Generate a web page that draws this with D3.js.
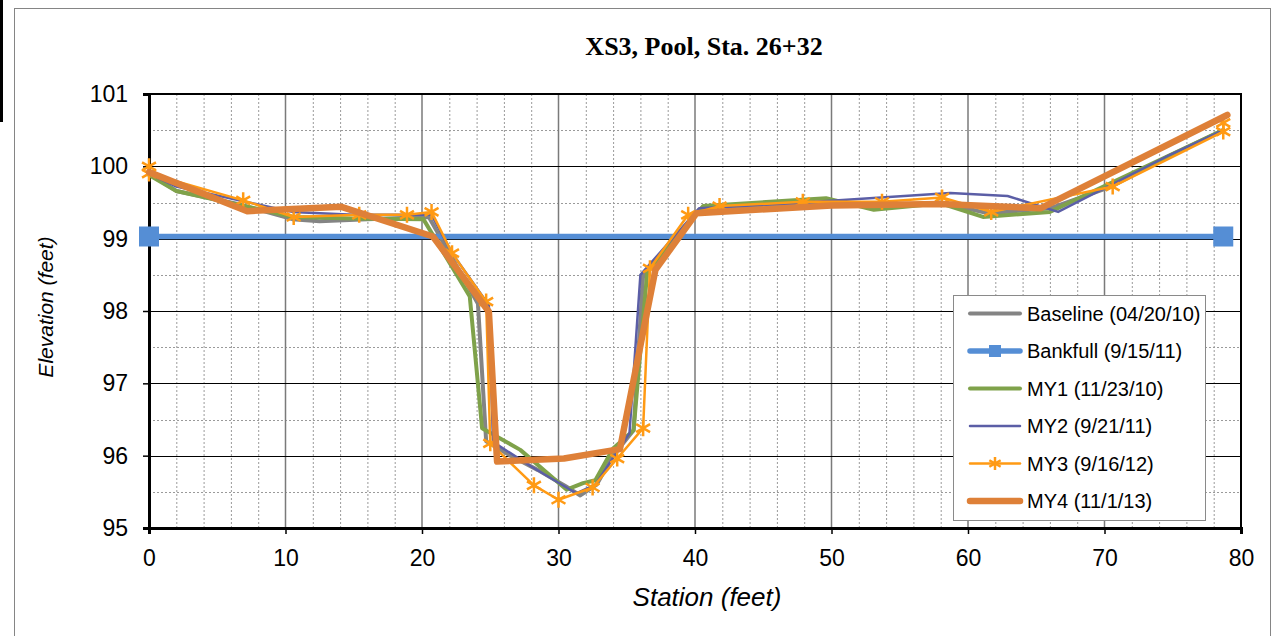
<!DOCTYPE html>
<html>
<head>
<meta charset="utf-8">
<script src="https://cdn.jsdelivr.net/npm/d3@7"></script>
<style>
  body { margin: 0; background: #fff; }
  svg { display: block; }
</style>
</head>
<body>
<svg id="chart" width="1275" height="636"></svg>
<script>
// station (feet), elevation (feet)
const baseline = [[0,99.9],[2,99.66],[6.5,99.48],[10.5,99.27],[12.5,99.24],[16,99.27],[20.5,99.3],[22,98.8],[24.1,98.1],[24.7,96.2],[26.5,96.0],[28.5,95.8],[30.5,95.58],[31.6,95.45],[32.8,95.6],[34,96.0],[35.5,96.35],[36.2,98.5],[40.3,99.4],[45,99.47],[50,99.5],[53.5,99.43],[58,99.5],[61.5,99.35],[66,99.42],[70.5,99.72],[74.5,100.12],[78.7,100.5]];
const bankfull = [[0,99.03],[78.7,99.03]];
const my1 = [[0,99.88],[2,99.66],[10.6,99.3],[15,99.28],[20.1,99.27],[23.5,98.2],[24.4,96.38],[27.2,96.08],[30.6,95.53],[31.8,95.62],[32.7,95.66],[34.0,96.1],[35.5,96.35],[36.5,98.54],[40.6,99.45],[49.6,99.56],[53.1,99.4],[58,99.49],[61.1,99.3],[66,99.37],[78.7,100.5]];
const my2 = [[0,99.9],[2,99.72],[10.5,99.37],[15,99.33],[20.7,99.33],[22.2,98.8],[24.9,98.08],[25.2,96.19],[28,95.85],[31.3,95.48],[32.7,95.6],[35.2,96.31],[36.0,98.5],[40.3,99.42],[48,99.5],[58.7,99.63],[62.9,99.59],[66.6,99.37],[74.8,100.16],[78.7,100.5]];
const my3 = [[0,100.0],[0,99.9],[6.9,99.53],[10.6,99.3],[15.4,99.33],[18.9,99.33],[20.7,99.37],[22.2,98.8],[24.7,98.13],[25.0,96.17],[28.2,95.59],[30.0,95.39],[32.5,95.56],[34.3,95.96],[36.2,96.38],[36.7,98.59],[39.5,99.33],[41.8,99.45],[47.9,99.51],[53.7,99.51],[58.1,99.57],[61.7,99.37],[70.6,99.72],[78.7,100.48],[78.7,100.6]];
const my4 = [[0,99.92],[7.2,99.38],[14.1,99.44],[20.8,99.03],[24.9,97.99],[25.5,95.92],[30.4,95.96],[34.5,96.09],[37.1,98.57],[40.1,99.35],[50,99.46],[58,99.48],[65.3,99.42],[79,100.71]];

const xTicks = [0,10,20,30,40,50,60,70,80];
const yTicks = [95,96,97,98,99,100,101];

const series = [
  { name: 'Baseline (04/20/10)', data: baseline, color: '#848484', width: 4 },
  { name: 'Bankfull (9/15/11)', data: bankfull, color: '#558ed5', width: 5.5, marker: 'square' },
  { name: 'MY1 (11/23/10)', data: my1, color: '#7fa24a', width: 4 },
  { name: 'MY2 (9/21/11)', data: my2, color: '#5b5ea6', width: 2.5 },
  { name: 'MY3 (9/16/12)', data: my3, color: '#ff9a14', width: 2.5, marker: 'star' },
  { name: 'MY4 (11/1/13)', data: my4, color: '#de8038', width: 6.5 }
];

const svg = d3.select('#chart');
const sans = 'Liberation Sans, Arial, sans-serif';

// outer chart frame
svg.append('rect').attr('x', 0).attr('y', 0).attr('width', 3).attr('height', 122).attr('fill', '#000');
svg.append('rect').attr('x', 14.5).attr('y', 8.5).attr('width', 1256).attr('height', 640)
  .attr('fill', 'none').attr('stroke', '#858585').attr('stroke-width', 1);

const x = d3.scaleLinear().domain([0, 80]).range([149, 1241]);
const y = d3.scaleLinear().domain([95, 101]).range([528, 94]);

// minor grid
const grid = svg.append('g');
grid.selectAll('.vminor').data(d3.range(2, 80, 2).filter(d => d % 10 !== 0)).join('line')
  .attr('x1', d => x(d) + 0.5).attr('x2', d => x(d) + 0.5).attr('y1', y(101)).attr('y2', y(95))
  .attr('stroke', '#9a9a9a').attr('stroke-width', 1).attr('stroke-dasharray', '2,2');
grid.selectAll('.hminor').data(d3.range(95.5, 101, 1)).join('line')
  .attr('x1', x(0)).attr('x2', x(80)).attr('y1', d => Math.round(y(d)) + 0.5).attr('y2', d => Math.round(y(d)) + 0.5)
  .attr('stroke', '#9a9a9a').attr('stroke-width', 1).attr('stroke-dasharray', '2,2');
// major grid
grid.selectAll('.vmajor').data(xTicks.slice(1, -1)).join('line')
  .attr('x1', d => x(d)).attr('x2', d => x(d)).attr('y1', y(101)).attr('y2', y(95))
  .attr('stroke', '#7a7a7a').attr('stroke-width', 1.5);
grid.selectAll('.hmajor').data(yTicks.slice(1, -1)).join('line')
  .attr('x1', x(0)).attr('x2', x(80)).attr('y1', d => Math.round(y(d)) + 0.5).attr('y2', d => Math.round(y(d)) + 0.5)
  .attr('stroke', '#000').attr('stroke-width', 1);

// plot border
svg.append('rect').attr('x', x(0)).attr('y', y(101)).attr('width', x(80) - x(0)).attr('height', y(95) - y(101))
  .attr('fill', 'none').attr('stroke', '#000').attr('stroke-width', 2);

// axes
const xAxis = svg.append('g').attr('transform', `translate(0,${y(95)})`)
  .call(d3.axisBottom(x).tickValues(xTicks).tickSize(6).tickPadding(16).tickFormat(d3.format('d')));
const yAxis = svg.append('g').attr('transform', `translate(${x(0)},0)`)
  .call(d3.axisLeft(y).tickValues(yTicks).tickSize(6).tickPadding(15).tickFormat(d3.format('d')));
[xAxis, yAxis].forEach(a => {
  a.select('.domain').attr('stroke', '#000').attr('stroke-width', 3);
  a.selectAll('.tick line').attr('stroke', '#000').attr('stroke-width', 1.5);
  a.selectAll('.tick text').attr('font-family', sans).attr('font-size', 23).attr('fill', '#000');
});

// series lines
const line = d3.line().x(d => x(d[0])).y(d => y(d[1]));
const starPath = s => `M0,${-s}V${s}M${-s*0.87},${-s*0.5}L${s*0.87},${s*0.5}M${-s*0.87},${s*0.5}L${s*0.87},${-s*0.5}`;

series.forEach(s => {
  svg.append('path').datum(s.data).attr('d', line)
    .attr('fill', 'none').attr('stroke', s.color).attr('stroke-width', s.width)
    .attr('stroke-linejoin', 'round').attr('stroke-linecap', 'round');
  if (s.marker === 'square') {
    svg.selectAll(null).data(s.data).join('rect')
      .attr('x', d => x(d[0]) - 10).attr('y', d => y(d[1]) - 10).attr('width', 20).attr('height', 20)
      .attr('fill', s.color);
  }
  if (s.marker === 'star') {
    svg.selectAll(null).data(s.data).join('path')
      .attr('transform', d => `translate(${x(d[0])},${y(d[1])})`)
      .attr('d', starPath(8)).attr('stroke', s.color).attr('stroke-width', 2.5).attr('fill', 'none');
  }
});

// title and axis titles
svg.append('text').attr('x', 704).attr('y', 55).attr('text-anchor', 'middle')
  .attr('font-family', 'Liberation Serif, Times New Roman, serif').attr('font-weight', 'bold').attr('font-size', 26)
  .text('XS3, Pool, Sta. 26+32');
svg.append('text').attr('x', 707).attr('y', 606).attr('text-anchor', 'middle')
  .attr('font-family', sans).attr('font-style', 'italic').attr('font-size', 26)
  .text('Station (feet)');
svg.append('text').attr('transform', 'translate(53,307) rotate(-90)').attr('text-anchor', 'middle')
  .attr('font-family', sans).attr('font-style', 'italic').attr('font-size', 21)
  .text('Elevation (feet)');

// legend
const lg = svg.append('g');
lg.append('rect').attr('x', 953.5).attr('y', 295.5).attr('width', 252).attr('height', 225)
  .attr('fill', '#fff').attr('stroke', '#8a8a8a').attr('stroke-width', 1);
series.forEach((s, i) => {
  const cy = 313.5 + i * 37.5;
  lg.append('line').attr('x1', 970).attr('x2', 1020).attr('y1', cy).attr('y2', cy)
    .attr('stroke', s.color).attr('stroke-width', Math.max(s.width, 2.5)).attr('stroke-linecap', 'round');
  if (s.marker === 'square') {
    lg.append('rect').attr('x', 989).attr('y', cy - 6).attr('width', 12).attr('height', 12).attr('fill', s.color);
  }
  if (s.marker === 'star') {
    lg.append('path').attr('transform', `translate(995,${cy})`).attr('d', starPath(6.5))
      .attr('stroke', s.color).attr('stroke-width', 2.5);
  }
  lg.append('text').attr('x', 1027).attr('y', cy + 7).attr('font-family', sans).attr('font-size', 20)
    .attr('fill', '#000').text(s.name);
});
</script>
</body>
</html>
